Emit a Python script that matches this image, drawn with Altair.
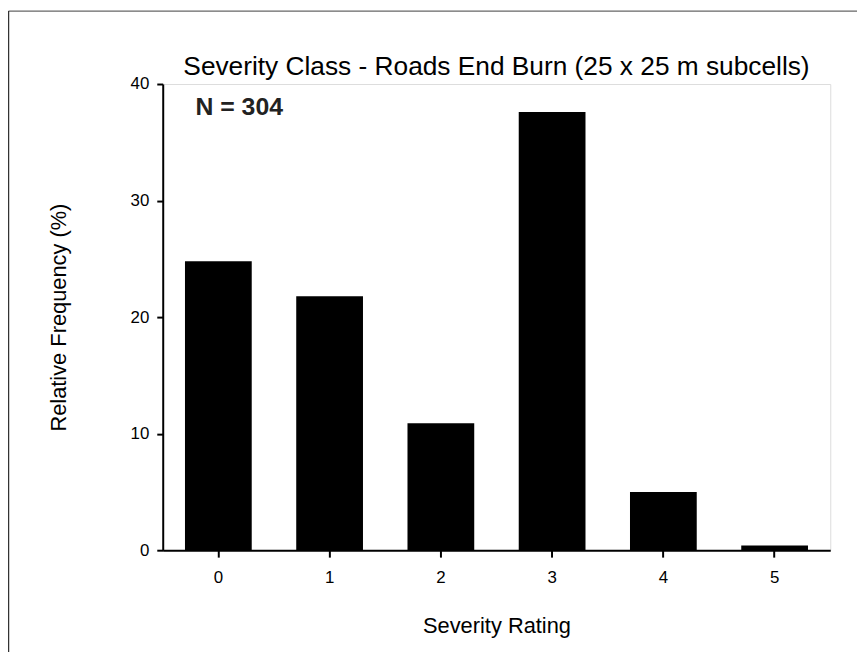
import altair as alt
import pandas as pd

ratings = ["0", "1", "2", "3", "4", "5"]
freq = [24.8, 21.8, 10.9, 37.6, 5.0, 0.4]
y_ticks = [0, 10, 20, 30, 40]
title_text = "Severity Class - Roads End Burn (25 x 25 m subcells)"
n_label = "N = 304"

FONT = "Liberation Sans"

df = pd.DataFrame({"rating": ratings, "freq": freq})

x_enc = alt.X(
    "rating:N",
    sort=ratings,
    scale=alt.Scale(paddingInner=0.4, paddingOuter=0.2),
    axis=alt.Axis(
        title="Severity Rating",
        labelAngle=0,
        labelFontSize=17,
        titleFontSize=22,
        titleFontWeight="normal",
        labelFont=FONT,
        titleFont=FONT,
        labelColor="black",
        titleColor="black",
        tickSize=7,
        tickWidth=2,
        tickColor="black",
        domainColor="black",
        domainWidth=2,
        labelPadding=13,
        titlePadding=30,
        grid=False,
    ),
)

y_enc = alt.Y(
    "freq:Q",
    scale=alt.Scale(domain=[0, 40], nice=False),
    axis=alt.Axis(
        title="Relative Frequency (%)",
        values=y_ticks,
        labelFontSize=17,
        titleFontSize=22,
        titleFontWeight="normal",
        labelFont=FONT,
        titleFont=FONT,
        labelColor="black",
        titleColor="black",
        tickSize=6,
        tickWidth=2,
        tickColor="black",
        domainColor="black",
        domainWidth=2,
        labelPadding=8,
        titlePadding=60,
        grid=False,
    ),
)

bars = alt.Chart(df).mark_bar(color="black").encode(x=x_enc, y=y_enc)

ann = alt.Chart(pd.DataFrame({"t": [n_label]})).mark_text(
    align="left", baseline="alphabetic", fontSize=25, fontWeight="bold",
    font=FONT, color="#222222"
).encode(text="t:N", x=alt.value(33), y=alt.value(31))

title_mark = alt.Chart(pd.DataFrame({"t": [title_text]})).mark_text(
    align="center", baseline="alphabetic", fontSize=26.5, font=FONT, color="black"
).encode(text="t:N", x=alt.value(336.5), y=alt.value(-9))

frame_df = pd.DataFrame({"a": [0]})
top_line = alt.Chart(frame_df).mark_rule(color="#666666", strokeWidth=1.5).encode(
    x=alt.value(-155.5), x2=alt.value(700), y=alt.value(-73.5)
)
left_line = alt.Chart(frame_df).mark_rule(color="#333333", strokeWidth=1.5).encode(
    x=alt.value(-155.5), y=alt.value(-73.5), y2=alt.value(600)
)

chart = alt.layer(top_line, left_line, bars, ann, title_mark).properties(
    width=673,
    height=470,
    padding={"left": 156, "top": 74, "right": 30, "bottom": 100},
    autosize=alt.AutoSizeParams(type="none"),
).configure_view(
    stroke="black", strokeWidth=2
).configure(background="white")

chart.save("out.html", embed_options={"renderer": "svg", "actions": False})
